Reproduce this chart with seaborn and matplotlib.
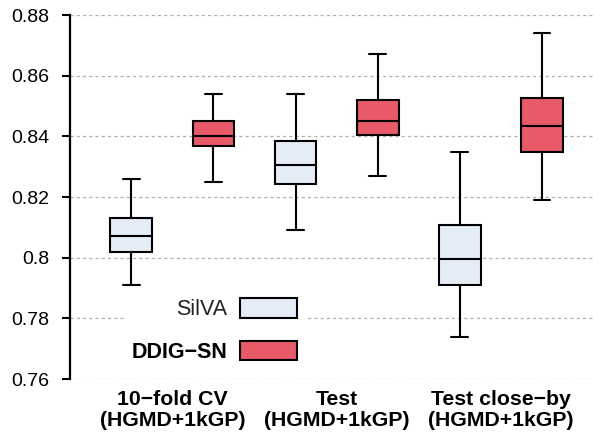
import numpy as np
import pandas as pd
import matplotlib
matplotlib.use("Agg")
import matplotlib.pyplot as plt
import seaborn as sns
from matplotlib.patches import Patch

groups = ["10\u2212fold CV\n(HGMD+1kGP)", "Test\n(HGMD+1kGP)", "Test close\u2212by\n(HGMD+1kGP)"]
methods = ["SilVA", "DDIG\u2212SN"]
# five-number summaries: [low whisker, Q1, median, Q3, high whisker]
silva_stats = [
    [0.791, 0.8020, 0.8070, 0.8131, 0.826],
    [0.809, 0.8242, 0.8306, 0.8385, 0.854],
    [0.774, 0.7910, 0.7995, 0.8107, 0.835],
]
ddig_stats = [
    [0.825, 0.8369, 0.8400, 0.8450, 0.854],
    [0.827, 0.8404, 0.8450, 0.8521, 0.867],
    [0.819, 0.8350, 0.8435, 0.8525, 0.874],
]
yticks = [0.76, 0.78, 0.80, 0.82, 0.84, 0.86, 0.88]
ytick_labels = ["0.76", "0.78", "0.8", "0.82", "0.84", "0.86", "0.88"]
colors = ["#E4ECF6", "#E85A67"]

rows = []
for m, stats in zip(methods, [silva_stats, ddig_stats]):
    for g, s in zip(groups, stats):
        for v in s:
            rows.append({"group": g, "method": m, "value": v})
df = pd.DataFrame(rows)

sns.set_style("white")
plt.rcParams["font.family"] = ["Liberation Sans", "DejaVu Sans"]
plt.rcParams["text.color"] = "black"
plt.rcParams["xtick.color"] = "black"
plt.rcParams["ytick.color"] = "black"

fig = plt.figure(figsize=(5.93, 4.34), dpi=100)
ax = fig.add_axes([70 / 593, 1 - 379 / 434, 523 / 593, 364 / 434])

sns.boxplot(data=df, x="group", y="value", hue="method", order=groups,
            hue_order=methods, palette=colors, saturation=1, whis=(0, 100),
            width=1.0, gap=0.49, linecolor="black", linewidth=1.5, fliersize=0,
            capwidths=0.1, ax=ax, legend=False, zorder=3)

ax.set_xlim(-0.624, 2.562)
ax.set_ylim(0.76, 0.88)
ax.set_yticks(yticks)
ax.set_yticklabels(ytick_labels, fontsize=14)
ax.set_xlabel("")
ax.set_ylabel("")
ax.set_xticks(range(len(groups)))
ax.set_xticklabels(groups, fontsize=15.3, fontweight="bold", linespacing=1.1)
ax.tick_params(axis="x", length=0, pad=8, colors="black")
ax.tick_params(axis="y", left=True, length=6, width=1.5, color="black",
               labelcolor="black", pad=9, direction="out")
ax.yaxis.grid(True, color="#AFAFAF", linestyle=(0, (2.5, 2.5)), linewidth=0.9)
ax.set_axisbelow(True)
for side in ["top", "right", "bottom"]:
    ax.spines[side].set_visible(False)
ax.spines["left"].set_linewidth(1.6)
ax.spines["left"].set_color("black")

handles = [Patch(facecolor=c, edgecolor="black", linewidth=1.5) for c in colors]
leg = ax.legend(handles, methods, loc="center", bbox_to_anchor=(0.2763, 0.1332),
                markerfirst=False, fontsize=15.5, handlelength=2.65,
                handleheight=1.0, handletextpad=0.6, labelspacing=0.95,
                frameon=True, framealpha=1, facecolor="white", edgecolor="none",
                borderpad=0.35, fancybox=False)
leg.get_texts()[0].set_color("#222222")
leg.get_texts()[1].set_fontweight("bold")
leg.set_zorder(5)

fig.savefig("out.png", dpi=100)
